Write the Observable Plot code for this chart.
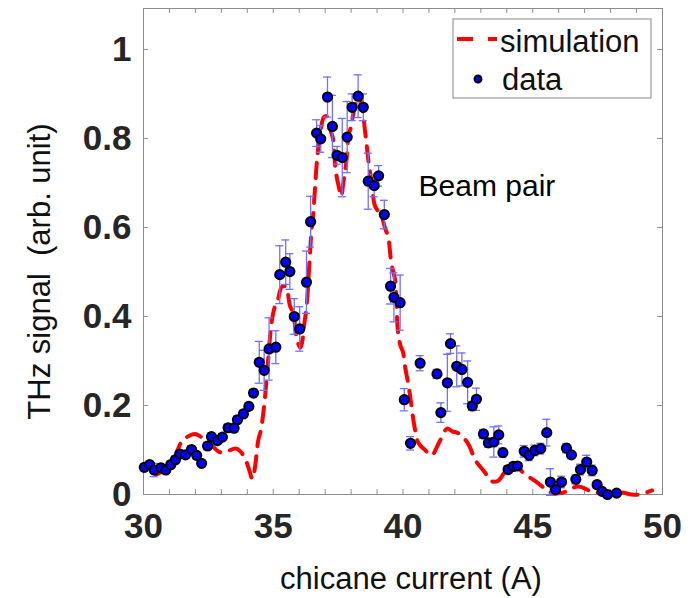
<!DOCTYPE html>
<html><head><meta charset="utf-8">
<script src="https://cdn.jsdelivr.net/npm/d3@7"></script>
<script src="https://cdn.jsdelivr.net/npm/@observablehq/plot@0.6"></script>
<style>body{margin:0;background:#fff} svg{display:block;font-family:"Liberation Sans",Arial,sans-serif}</style>
</head><body><div id="chart"></div>
<script>
// measured data (chicane current in A, THz signal, error)
const dataX = [30.03,30.24,30.41,30.67,30.86,31.05,31.23,31.40,31.62,31.85,32.05,32.24,32.47,32.62,32.85,33.04,33.26,33.49,33.62,33.85,34.06,34.24,34.46,34.65,34.84,35.10,35.25,35.48,35.64,35.81,36.02,36.28,36.44,36.67,36.83,37.09,37.28,37.46,37.66,37.85,38.04,38.27,38.47,38.66,38.89,39.06,39.28,39.52,39.65,39.89,40.05,40.29,40.66,41.31,41.46,41.71,41.83,42.07,42.27,42.49,42.67,42.83,43.10,43.29,43.50,43.69,43.85,44.05,44.25,44.41,44.67,44.86,45.08,45.31,45.54,45.68,45.88,46.11,46.30,46.49,46.66,46.84,47.08,47.29,47.48,47.67,47.88,48.23];
const dataY = [0.061,0.067,0.055,0.060,0.055,0.067,0.078,0.091,0.089,0.101,0.088,0.070,0.109,0.130,0.121,0.129,0.150,0.149,0.168,0.181,0.198,0.228,0.297,0.279,0.327,0.331,0.494,0.522,0.501,0.400,0.372,0.477,0.613,0.812,0.799,0.893,0.827,0.762,0.757,0.803,0.870,0.895,0.870,0.704,0.694,0.716,0.629,0.468,0.443,0.431,0.213,0.115,0.295,0.271,0.184,0.251,0.339,0.288,0.281,0.252,0.199,0.214,0.136,0.116,0.118,0.134,0.094,0.056,0.063,0.064,0.097,0.088,0.099,0.103,0.139,0.028,0.011,0.028,0.104,0.089,0.034,0.056,0.073,0.054,0.022,0.007,0.000,0.003];
const dataErr = [0.008,0.008,0.015,0.008,0.008,0.008,0.008,0.008,0.008,0.008,0.008,0.006,0.008,0.008,0.008,0.008,0.008,0.008,0.008,0.008,0.008,0.008,0.047,0.045,0.07,0.037,0.065,0.05,0.04,0.04,0.05,0.07,0.057,0.03,0.03,0.045,0.07,0.02,0.088,0.08,0.03,0.048,0.03,0.063,0.025,0.023,0.032,0.04,0.055,0.062,0.025,0.015,0.017,0.01,0.022,0.064,0.022,0.046,0.037,0.048,0.01,0.025,0.01,0.01,0.034,0.02,0.01,0.008,0.008,0.008,0.013,0.012,0.012,0.012,0.03,0.03,0.01,0.013,0.01,0.008,0.01,0.012,0.015,0.012,0.008,0.006,0.006,0.006];
// simulation curve
const simX = [30.5,30.8,31.14,31.46,31.7,31.98,32.2,32.56,32.94,33.2,33.58,33.8,33.97,34.1,34.19,34.28,34.42,34.52,34.65,34.8,34.93,35.05,35.19,35.32,35.45,35.54,35.64,35.77,35.92,36.05,36.12,36.2,36.28,36.4,36.47,36.54,36.6,36.7,36.86,36.95,37.05,37.2,37.3,37.4,37.53,37.62,37.7,37.82,37.9,37.99,38.1,38.2,38.3,38.4,38.53,38.6,38.7,38.8,38.9,39.0,39.15,39.3,39.43,39.55,39.7,39.8,39.9,40.0,40.1,40.2,40.3,40.45,40.6,40.85,41.1,41.4,41.7,41.9,42.15,42.5,42.8,43.15,43.4,43.67,44.05,44.3,44.67,45.15,45.5,45.8,46.2,46.75,47.26,47.8,48.4,48.8,49.1,49.6];
const simY = [0.045,0.055,0.076,0.118,0.13,0.136,0.13,0.114,0.095,0.097,0.103,0.092,0.073,0.05,0.035,0.055,0.121,0.144,0.2,0.3,0.384,0.42,0.44,0.466,0.468,0.458,0.425,0.406,0.346,0.33,0.345,0.385,0.42,0.526,0.59,0.63,0.68,0.76,0.83,0.848,0.85,0.82,0.80,0.73,0.69,0.67,0.70,0.75,0.807,0.825,0.86,0.885,0.895,0.88,0.82,0.785,0.735,0.70,0.652,0.64,0.63,0.60,0.578,0.52,0.48,0.37,0.335,0.32,0.28,0.25,0.21,0.15,0.115,0.10,0.088,0.118,0.148,0.142,0.137,0.115,0.076,0.05,0.03,0.031,0.061,0.066,0.047,0.028,0.012,0.002,0.005,0.018,0.007,0.003,0.005,0.0,0.0,0.009];
// axes
const xTicks = [30,35,40,45,50];
const xMinorTicks = [30,31,32,33,34,35,36,37,38,39,40,41,42,43,44,45,46,47,48,49,50];
const yTicks = [0,0.2,0.4,0.6,0.8,1];
const yTickLabels = ["0","0.2","0.4","0.6","0.8","1"];
const xTitle = "chicane current (A)";
const yTitle = "THz signal  (arb. unit)";
const annotation = "Beam pair";
const legendLabels = ["simulation","data"];

const data = dataX.map((x,i)=>({x, y:dataY[i], e:dataErr[i]}));
const sim = simX.map((x,i)=>({x, y:simY[i]}));
const yMax = 1.092;
const axisColor = "#8c8c8c";
const tickColor = "#262626";

const plot = Plot.plot({
  width: 691, height: 598,
  marginLeft: 143, marginRight: 29, marginTop: 8, marginBottom: 104,
  x: {domain:[30,50], axis:null},
  y: {domain:[0,yMax], axis:null},
  style: {fontFamily:'"Liberation Sans",Arial,sans-serif', background:"#fff"},
  marks: [
    Plot.frame({stroke: axisColor, strokeWidth: 1}),
    // inward ticks on all four sides
    Plot.ruleX(xMinorTicks, {x: d=>d, y1: 0, y2: 0.011, stroke: axisColor}),
    Plot.ruleX(xMinorTicks, {x: d=>d, y1: yMax-0.011, y2: yMax, stroke: axisColor}),
    Plot.ruleY(yTicks, {y: d=>d, x1: 30, x2: 30.19, stroke: axisColor}),
    Plot.ruleY(yTicks, {y: d=>d, x1: 49.81, x2: 50, stroke: axisColor}),
    // tick labels
    Plot.text(xTicks, {x: d=>d, y: 0, text: d=>String(d), dy: 32, fontSize: 35, fontWeight: "bold", fill: tickColor, lineAnchor: "middle"}),
    Plot.text(yTicks, {x: 30, y: d=>d, text: (d,i)=>yTickLabels[i], dx: -12, textAnchor: "end", fontSize: 35, fontWeight: "bold", fill: tickColor, lineAnchor: "middle"}),
    // simulation
    Plot.line(sim, {x:"x", y:"y", stroke:"#ff0000", strokeWidth: 4, strokeDasharray: "15,10", curve: "catmull-rom"}),
    // error bars
    Plot.ruleX(data, {x:"x", y1: d=>d.y-d.e, y2: d=>d.y+d.e, stroke:"#7070ff", strokeWidth: 1.3}),
    Plot.ruleY(data, {y: d=>d.y+d.e, x1:"x", x2:"x", insetLeft:-4, insetRight:-4, stroke:"#7070ff", strokeWidth: 1.3}),
    Plot.ruleY(data, {y: d=>d.y-d.e, x1:"x", x2:"x", insetLeft:-4, insetRight:-4, stroke:"#7070ff", strokeWidth: 1.3}),
    // data points
    Plot.dot(data, {x:"x", y:"y", r: 4.6, fill:"#0000ff", stroke:"#000", strokeWidth: 2}),
    // annotation
    Plot.text([annotation], {x: 40.6, y: 0.692, text: d=>d, textAnchor: "start", fontSize: 30, fill: "#000", lineAnchor: "middle"}),
    // axis titles
    Plot.text([xTitle], {frameAnchor: "bottom", text: d=>d, dy: 85, dx: 8, textAnchor: "middle", fontSize: 31, fill: "#111", lineAnchor: "middle"}),
    Plot.text([yTitle], {frameAnchor: "left", text: d=>d, dx: -103, dy: 20, rotate: -90, textAnchor: "middle", fontSize: 31, fill: "#111", lineAnchor: "middle"})
  ]
});

// legend box (MATLAB-style)
const svg = d3.select(plot);
const lg = svg.append("g").attr("text-anchor","start");
lg.append("rect").attr("x",453).attr("y",19).attr("width",198).attr("height",79)
  .attr("fill","#fff").attr("stroke","#999").attr("stroke-width",1.2);
lg.append("line").attr("x1",457).attr("x2",497).attr("y1",39).attr("y2",39)
  .attr("stroke","#ff0000").attr("stroke-width",4).attr("stroke-dasharray","16,15");
lg.append("text").attr("x",500).attr("y",52).attr("text-anchor","start").attr("font-size",31).attr("fill","#111").text(legendLabels[0]);
lg.append("circle").attr("cx",478).attr("cy",79).attr("r",3.5).attr("fill","#0000ff").attr("stroke","#000").attr("stroke-width",2);
lg.append("text").attr("x",502).attr("y",90).attr("text-anchor","start").attr("font-size",31).attr("fill","#111").text(legendLabels[1]);

document.getElementById("chart").appendChild(plot);
</script>
</body></html>
